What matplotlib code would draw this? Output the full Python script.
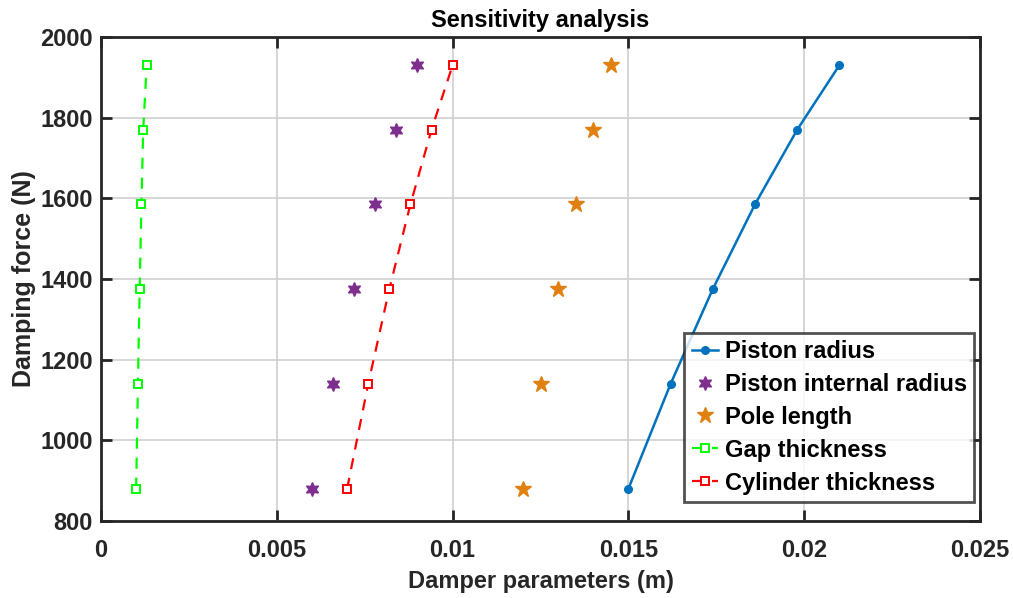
import numpy as np
import matplotlib
matplotlib.use('Agg')
from matplotlib import pyplot as plt

# damping force levels (N)
force = [880, 1140, 1375, 1585, 1770, 1930]

# damper parameter values (m) for each series
piston_radius = [0.015, 0.0162, 0.0174, 0.0186, 0.0198, 0.021]
piston_internal_radius = [0.006, 0.0066, 0.0072, 0.0078, 0.0084, 0.009]
pole_length = [0.012, 0.0125, 0.013, 0.0135, 0.014, 0.0145]
gap_thickness = [0.001, 0.00105, 0.0011, 0.00115, 0.0012, 0.0013]
cylinder_thickness = [0.007, 0.0076, 0.0082, 0.0088, 0.0094, 0.01]

xticks = [0, 0.005, 0.01, 0.015, 0.02, 0.025]
xticklabels = ['0', '0.005', '0.01', '0.015', '0.02', '0.025']
yticks = [800, 1000, 1200, 1400, 1600, 1800, 2000]

plt.rcParams['font.family'] = ['Liberation Sans', 'DejaVu Sans']
plt.rcParams['font.weight'] = 'bold'

fig = plt.figure(figsize=(10.13, 5.98), dpi=100)
ax = fig.add_axes([101/1013, 1-521/598, 879/1013, 484/598])

ax.plot(piston_radius, force, '-o', color='#0072BD', lw=1.8, ms=5.5, label='Piston radius')
ax.plot(piston_internal_radius, force, marker=(6, 1, 0), ls='none', color='#7E2F8E', ms=10,
        label='Piston internal radius')
ax.plot(pole_length, force, '*', ls='none', color='#E08010', ms=12, label='Pole length')
ax.plot(gap_thickness, force, '--s', color='#00FF00', lw=1.6, ms=6, mfc='white', mew=1.4,
        dashes=(5, 4), label='Gap thickness')
ax.plot(cylinder_thickness, force, '--s', color='#FF0000', lw=1.6, ms=6, mfc='white', mew=1.4,
        dashes=(5, 4), label='Cylinder thickness')

ax.set_xlim(0, 0.025)
ax.set_ylim(800, 2000)
ax.set_xticks(xticks)
ax.set_xticklabels(xticklabels)
ax.set_yticks(yticks)
ax.grid(True, color='#d0d0d0', lw=1.2)
ax.set_axisbelow(True)
for s in ax.spines.values():
    s.set_linewidth(2)
    s.set_color('#262626')
ax.tick_params(direction='in', length=8, width=2, top=True, right=True,
               labelsize=17, colors='#262626')
ax.tick_params(axis='x', pad=13)
ax.tick_params(axis='y', pad=6)
for lab in ax.get_xticklabels() + ax.get_yticklabels():
    lab.set_fontweight('bold')

ax.set_xlabel('Damper parameters (m)', fontsize=17, fontweight='bold', color='#262626', labelpad=6)
ax.set_ylabel('Damping force (N)', fontsize=18, fontweight='bold', color='#262626', labelpad=3)
ax.set_title('Sensitivity analysis', fontsize=17, fontweight='bold', pad=7)

leg = ax.legend(loc='lower right', bbox_to_anchor=(0.993, 0.04), fontsize=17, frameon=True,
                fancybox=False, edgecolor='#262626', handlelength=1.1, handletextpad=0.3,
                borderpad=0.3, labelspacing=0.42, borderaxespad=0)
leg.get_frame().set_linewidth(2)
for t in leg.get_texts():
    t.set_fontweight('bold')

fig.savefig('out.png', dpi=100)
